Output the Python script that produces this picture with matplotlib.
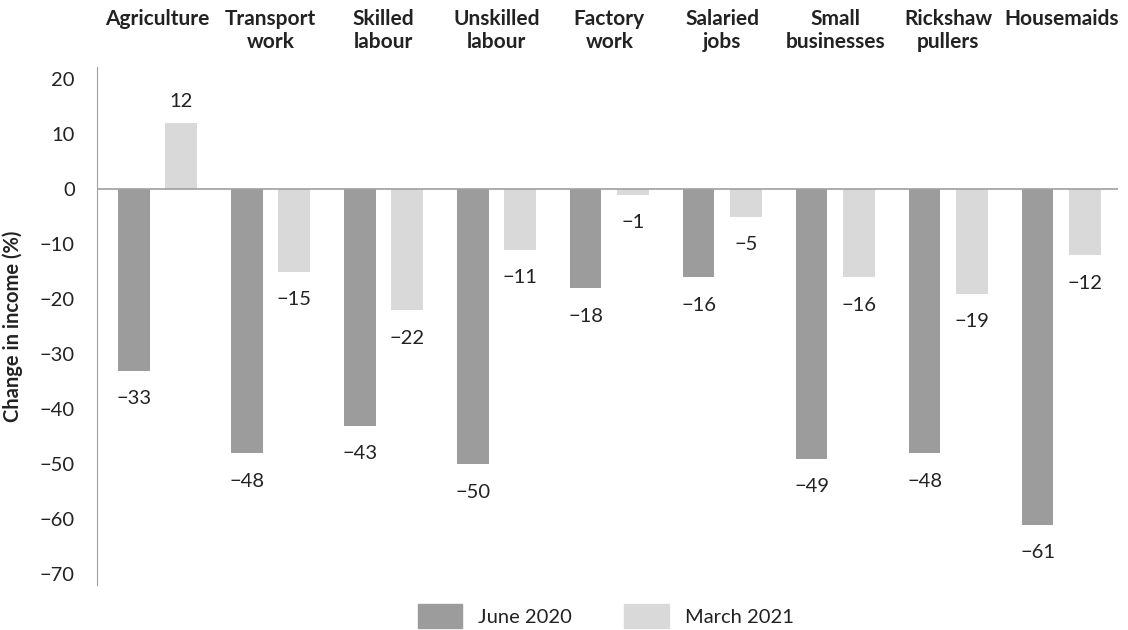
import numpy as np
import matplotlib
matplotlib.use("Agg")
import matplotlib.pyplot as plt
from matplotlib.patches import Patch

# change in income by occupation, two survey rounds
categories = ["Agriculture", "Transport\nwork", "Skilled\nlabour", "Unskilled\nlabour",
              "Factory\nwork", "Salaried\njobs", "Small\nbusinesses", "Rickshaw\npullers",
              "Housemaids"]
june_2020 = [-33, -48, -43, -50, -18, -16, -49, -48, -61]
march_2021 = [12, -15, -22, -11, -1, -5, -16, -19, -12]
yticks = list(range(-70, 21, 10))

dark = "#9c9c9c"
light = "#d9d9d9"
txt = "#222222"

plt.rcParams["font.family"] = ["Lato", "DejaVu Sans"]

fig = plt.figure(figsize=(11.28, 6.30), dpi=100)
ax = fig.add_axes([0.086, 0.071, 0.905, 0.823])

x = np.arange(len(categories))
w = 0.28
off = 0.21
ax.bar(x - off, june_2020, w, color=dark, label="June 2020")
ax.bar(x + off, march_2021, w, color=light, label="March 2021")

def fmt(v):
    return str(v).replace("-", "\u2212")

for xs, vals in ((x - off, june_2020), (x + off, march_2021)):
    for xi, v in zip(xs, vals):
        ax.annotate(fmt(v), (xi, v), xytext=(0, -20 if v < 0 else 16), textcoords="offset points",
                    ha="center", va="center", fontsize=14.5, color=txt)

ax.axhline(0, color="#a0a0a0", linewidth=1.2)

ax.set_xlim(-0.535, 8.5)
ax.set_ylim(-72, 22.3)
ax.set_yticks(yticks)
ax.set_yticklabels([fmt(t) for t in yticks], fontsize=14.5, color=txt)
ax.tick_params(axis="y", length=0, pad=16)
ax.set_xticks([])
for s in ["top", "right", "bottom"]:
    ax.spines[s].set_visible(False)
ax.spines["left"].set_color("#a0a0a0")

# category names sit above the plot
for xi, name in zip(x, categories):
    ax.annotate(name, (xi, 0), xycoords=("data", "figure fraction"), xytext=(0, 621),
                textcoords=("offset points", "figure pixels"), ha="center", va="top",
                fontsize=15, fontweight="bold", color=txt, linespacing=1.2)

ax.set_ylabel("Change in income (%)", fontsize=14.5, fontweight="bold", color=txt, labelpad=12)

handles = [Patch(color=dark, label="June 2020"), Patch(color=light, label="March 2021")]
fig.legend(handles=handles, loc="lower center", bbox_to_anchor=(0.537, -0.025), ncol=2,
           frameon=False, fontsize=14.5, handlelength=2.2, handleheight=1.4,
           columnspacing=2.6, labelcolor=txt)

fig.savefig("out.png", dpi=100)
